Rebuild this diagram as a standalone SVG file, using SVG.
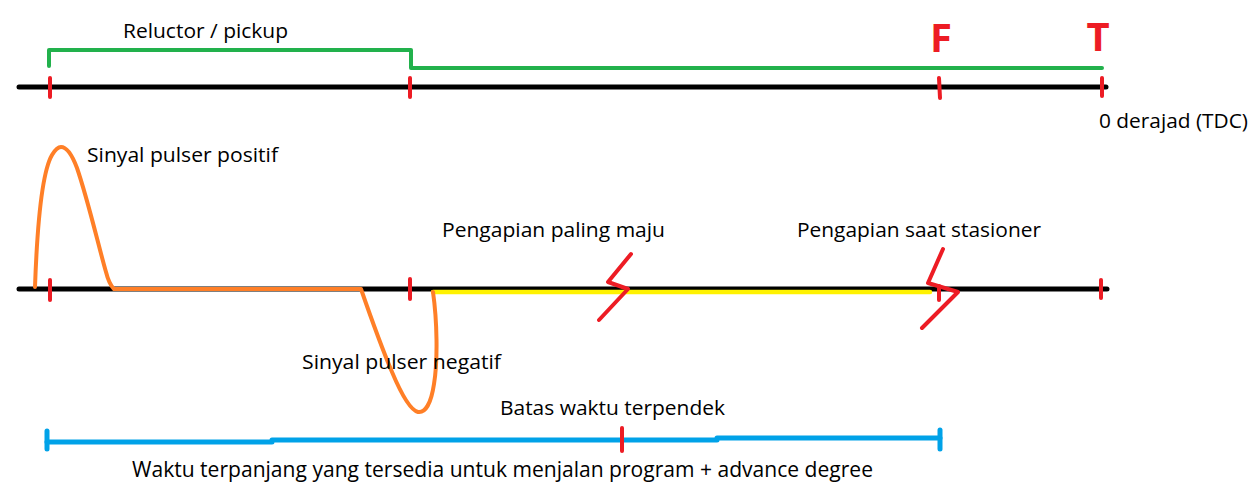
<svg xmlns="http://www.w3.org/2000/svg" width="1259" height="491" viewBox="0 0 1259 491">
<style>
.ln{fill:none;stroke-linecap:round;stroke-linejoin:round}
.blk{stroke:#000;stroke-width:5}
.grn{stroke:#22b14c;stroke-width:4}
.red{stroke:#ed1c24;stroke-width:4}
.org{stroke:#ff7f27;stroke-width:4}
.yel{stroke:#fff200;stroke-width:4.5}
.blu{stroke:#00a2e8;stroke-width:5}
.t{font-family:"Open Sans","Noto Sans",sans-serif;font-size:20px;fill:#000}
.c{font-family:"Open Sans","Noto Sans",sans-serif;font-size:21px;fill:#000}
.big{font-family:"Open Sans","Noto Sans",sans-serif;font-size:40px;font-weight:bold;fill:#ed1c24;text-anchor:middle}
</style>
<rect width="1259" height="491" fill="#fff"/>
<g id="top-axis">
<path class="ln grn" d="M49,66 L49,50 L411,50 L411,68 L1102,68"/>
<line class="ln blk" x1="19" y1="87" x2="1106" y2="87"/>
<line class="ln red" x1="50" y1="78" x2="50" y2="97"/>
<line class="ln red" x1="410" y1="78" x2="410" y2="97"/>
<line class="ln red" x1="939" y1="78" x2="940" y2="98"/>
<line class="ln red" x1="1102" y1="78" x2="1102" y2="96"/>
<text class="t" x="123" y="38" textLength="165" lengthAdjust="spacingAndGlyphs">Reluctor / pickup</text>
<text class="big" x="941" y="52">F</text>
<text class="big" x="1098" y="51">T</text>
<text class="t" x="1099" y="128" textLength="149" lengthAdjust="spacingAndGlyphs">0 derajad (TDC)</text>
</g>
<g id="middle-axis">
<line class="ln blk" x1="19" y1="289" x2="1107" y2="289"/>
<line class="ln yel" x1="433" y1="292" x2="930" y2="292"/>
<line class="ln red" x1="50" y1="280" x2="50" y2="300"/>
<line class="ln red" x1="410" y1="279" x2="410" y2="299"/>
<line class="ln red" x1="1101" y1="280" x2="1101" y2="298"/>
</g>
<g id="pulse-signal">
<path class="ln org" d="M35,287 C37,230 42,172 52,155 C55,150 58,147 61,147 C66,147 71,152 77,168 C88,200 99,248 106,272 C108,280 111,286 114,289 L361,289 C370,315 381,346 392,372 C400,391 410,410 418,412 C425,413 431,404 434,384 C438,360 437,320 433,292"/>
<text class="t" x="87" y="162" textLength="191" lengthAdjust="spacingAndGlyphs">Sinyal pulser positif</text>
<text class="t" x="302" y="369" textLength="199" lengthAdjust="spacingAndGlyphs">Sinyal pulser negatif</text>
</g>
<g id="ignition-advanced">
<polyline class="ln red" points="631,254 608,282 628,289 599,320"/>
<text class="t" x="442" y="237" textLength="223" lengthAdjust="spacingAndGlyphs">Pengapian paling maju</text>
</g>
<g id="ignition-static">
<polyline class="ln red" points="943,249 928,283 958,292 922,328"/>
<line class="ln red" x1="939" y1="286" x2="939" y2="300"/>
<text class="t" x="797" y="237" textLength="244" lengthAdjust="spacingAndGlyphs">Pengapian saat stasioner</text>
</g>
<g id="time-bar">
<polyline class="ln blu" points="47,442 272,442 272,440 717,440 717,438 940,438"/>
<line class="ln blu" x1="47" y1="431" x2="47" y2="449"/>
<line class="ln blu" x1="940" y1="430" x2="940" y2="449"/>
<line class="ln red" x1="622" y1="428" x2="622" y2="451"/>
<text class="t" x="500" y="415" textLength="225" lengthAdjust="spacingAndGlyphs">Batas waktu terpendek</text>
<text class="c" x="132" y="477" textLength="741" lengthAdjust="spacingAndGlyphs">Waktu terpanjang yang tersedia untuk menjalan program + advance degree</text>
</g>
</svg>
